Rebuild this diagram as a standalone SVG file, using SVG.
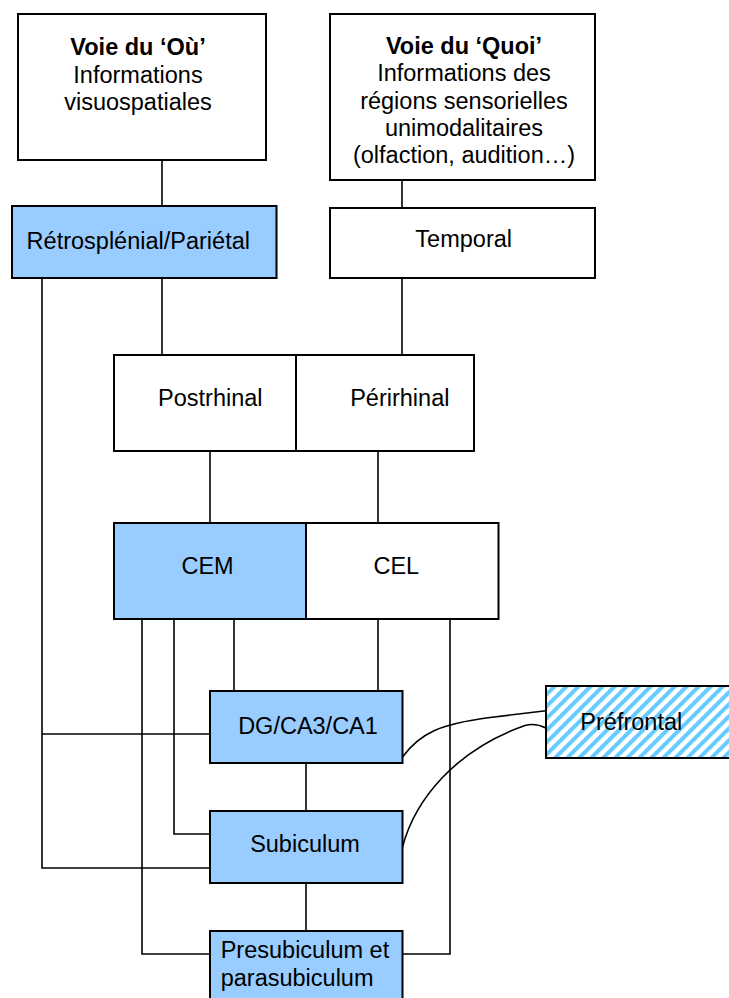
<svg xmlns="http://www.w3.org/2000/svg" width="729" height="998" viewBox="0 0 729 998">
<defs>
<pattern id="hatch" patternUnits="userSpaceOnUse" width="8.5" height="8.5" patternTransform="rotate(45)">
<rect width="8.5" height="8.5" fill="#ffffff"/>
<rect x="0" y="0" width="4" height="8.5" fill="#66ccff"/>
</pattern>
</defs>
<style>
.box{fill:#ffffff;stroke:#000;stroke-width:2}
.blue{fill:#99ccff;stroke:#000;stroke-width:2}
.hatch{fill:url(#hatch);stroke:#000;stroke-width:2}
text{font-family:"Liberation Sans",Arial,sans-serif;font-size:23.5px;fill:#000;text-anchor:middle}
.b{font-weight:bold}
.l{text-anchor:start}
#connectors path{fill:none;stroke:#000;stroke-width:1.6}
</style>
<rect width="729" height="998" fill="#ffffff"/>
<g id="connectors">
<path d="M162,160 V206"/>
<path d="M402,180 V208"/>
<path d="M162,278 V355"/>
<path d="M402,278 V354"/>
<path d="M210,451 V523"/>
<path d="M378,451 V523"/>
<path d="M42,278 V868 H210"/>
<path d="M42,734 H210"/>
<path d="M234,619 V691"/>
<path d="M378,619 V691"/>
<path d="M174,619 V834 H210"/>
<path d="M142,619 V954 H210"/>
<path d="M450,619 V954 H403"/>
<path d="M306,763 V811"/>
<path d="M306,883 V931"/>
<path d="M402.5,757 C420,733 440,724 490,717.5 L546,710.7"/>
<path d="M402.5,847 C415,800 455,750 525,725.5 Q535,722.5 546,728"/>
</g>
<g id="voie-ou">
<rect class="box" x="18" y="14" width="248" height="146"/>
<text x="138" y="55" class="b">Voie du ‘Où’</text>
<text x="138" y="82.5">Informations</text>
<text x="138" y="110">visuospatiales</text>
</g>
<g id="voie-quoi">
<rect class="box" x="330" y="14" width="265" height="166"/>
<text x="464" y="53.5" class="b">Voie du ‘Quoi’</text>
<text x="464" y="81">Informations des</text>
<text x="464" y="108.5">régions sensorielles</text>
<text x="464" y="136">unimodalitaires</text>
<text x="464" y="163">(olfaction, audition…)</text>
</g>
<g id="retrosplenial">
<rect class="blue" x="12" y="206" width="264.5" height="72"/>
<text x="138.3" y="249.3">Rétrosplénial/Pariétal</text>
</g>
<g id="temporal">
<rect class="box" x="330" y="208" width="265" height="70"/>
<text x="463.7" y="246.7">Temporal</text>
</g>
<g id="postrhinal">
<rect class="box" x="114" y="355" width="182" height="96"/>
<text x="210.3" y="406">Postrhinal</text>
</g>
<g id="perirhinal">
<rect class="box" x="296" y="355" width="178" height="96"/>
<text x="399.8" y="406">Périrhinal</text>
</g>
<g id="cem">
<rect class="blue" x="114" y="523" width="192" height="96"/>
<text x="207.6" y="574">CEM</text>
</g>
<g id="cel">
<rect class="box" x="306" y="523" width="192.5" height="96"/>
<text x="396.3" y="574">CEL</text>
</g>
<g id="dg">
<rect class="blue" x="210" y="691" width="192.5" height="72"/>
<text x="308" y="734">DG/CA3/CA1</text>
</g>
<g id="subiculum">
<rect class="blue" x="210" y="811" width="192.5" height="72"/>
<text x="305" y="851.7">Subiculum</text>
</g>
<g id="presubiculum">
<rect class="blue" x="210" y="931" width="192.5" height="80"/>
<text x="220.7" y="958.3" class="l">Presubiculum et</text>
<text x="220.7" y="985.5" class="l">parasubiculum</text>
</g>
<g id="prefrontal">
<rect class="hatch" x="546" y="686" width="200" height="72"/>
<text x="631.3" y="730">Préfrontal</text>
</g>
</svg>
